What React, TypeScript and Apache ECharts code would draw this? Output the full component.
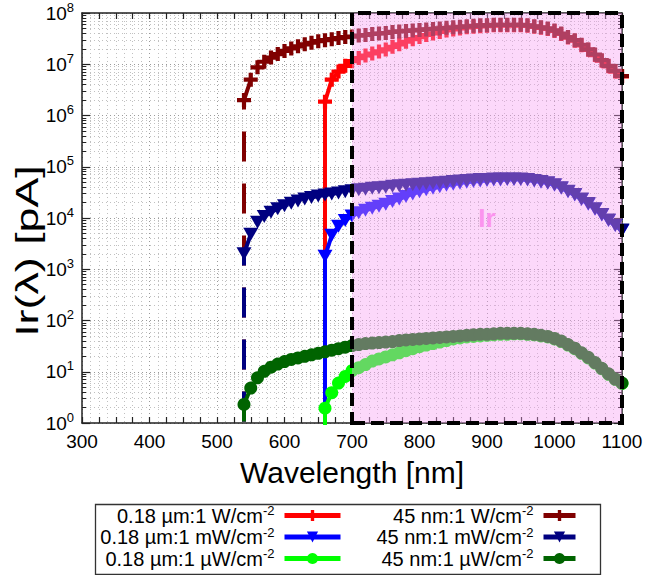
import React, { useEffect, useRef } from "react";
import * as echarts from "echarts";

// Wavelength grids [nm]
const nm45 = [540, 550, 560, 570, 580, 590, 600, 610, 620, 630, 640, 650, 660, 670, 680, 690, 700, 710, 720, 730, 740, 750, 760, 770, 780, 790, 800, 810, 820, 830, 840, 850, 860, 870, 880, 890, 900, 910, 920, 930, 940, 950, 960, 970, 980, 990, 1000, 1010, 1020, 1030, 1040, 1050, 1060, 1070, 1080, 1090, 1100];
const nm018 = [660, 670, 680, 690, 700, 710, 720, 730, 740, 750, 760, 770, 780, 790, 800, 810, 820, 830, 840, 850, 860, 870, 880, 890, 900, 910, 920, 930, 940, 950, 960, 970, 980, 990, 1000, 1010, 1020, 1030, 1040, 1050, 1060, 1070, 1080, 1090, 1100];

// Value at the cut-on wavelength before the response starts (below the axis floor)
const cutOffValue = 0.01;

// Ir(λ) [pA]
const ir018W = [1.86e6, 5.0e6, 7.2e6, 9.3e6, 1.15e7, 1.32e7, 1.48e7, 1.62e7, 1.78e7, 1.95e7, 2.19e7, 2.45e7, 2.75e7, 3.09e7, 3.39e7, 3.72e7, 3.98e7, 4.27e7, 4.57e7, 4.79e7, 5.01e7, 5.25e7, 5.37e7, 5.5e7, 5.62e7, 5.75e7, 5.75e7, 5.75e7, 5.75e7, 5.75e7, 5.62e7, 5.37e7, 5.13e7, 4.9e7, 4.47e7, 3.89e7, 3.31e7, 2.88e7, 2.34e7, 1.91e7, 1.51e7, 1.17e7, 9.1e6, 7.2e6, 5.8e6];
const ir018mW = [1.8e3, 4.6e3, 6.9e3, 8.9e3, 1.1e4, 1.26e4, 1.41e4, 1.55e4, 1.7e4, 1.86e4, 2.09e4, 2.34e4, 2.63e4, 2.95e4, 3.24e4, 3.55e4, 3.8e4, 4.07e4, 4.37e4, 4.57e4, 4.79e4, 5.01e4, 5.13e4, 5.25e4, 5.37e4, 5.5e4, 5.5e4, 5.62e4, 5.62e4, 5.62e4, 5.5e4, 5.25e4, 5.01e4, 4.79e4, 4.37e4, 3.8e4, 3.24e4, 2.82e4, 2.29e4, 1.86e4, 1.48e4, 1.15e4, 8.9e3, 7.1e3, 5.7e3];
const ir018uW = [1.95, 3.9, 6.0, 8.1, 10.5, 12.0, 13.8, 16.2, 17.8, 19.5, 21.4, 23.4, 25.7, 28.2, 30.9, 33.1, 35.5, 38.0, 40.7, 43.7, 45.7, 47.9, 49.0, 50.1, 51.3, 52.5, 53.7, 53.7, 55.0, 55.0, 53.7, 52.5, 50.1, 47.9, 43.7, 38.9, 33.1, 28.2, 22.9, 18.6, 14.8, 11.5, 8.9, 7.1, 5.9];
const ir45W = [2.0e6, 5.0e6, 8.7e6, 1.12e7, 1.35e7, 1.58e7, 1.82e7, 2.04e7, 2.24e7, 2.45e7, 2.63e7, 2.82e7, 2.95e7, 3.09e7, 3.24e7, 3.39e7, 3.47e7, 3.63e7, 3.72e7, 3.89e7, 3.98e7, 4.07e7, 4.27e7, 4.37e7, 4.47e7, 4.57e7, 4.68e7, 4.79e7, 4.9e7, 5.01e7, 5.13e7, 5.25e7, 5.37e7, 5.5e7, 5.62e7, 5.75e7, 5.75e7, 5.89e7, 5.89e7, 5.89e7, 5.89e7, 5.89e7, 5.75e7, 5.5e7, 5.25e7, 5.01e7, 4.57e7, 3.98e7, 3.39e7, 2.95e7, 2.4e7, 1.95e7, 1.55e7, 1.2e7, 9.3e6, 7.4e6, 5.9e6];
const ir45mW = [2.0e3, 4.8e3, 8.3e3, 1.07e4, 1.29e4, 1.51e4, 1.74e4, 1.95e4, 2.14e4, 2.34e4, 2.51e4, 2.69e4, 2.82e4, 2.95e4, 3.09e4, 3.24e4, 3.39e4, 3.55e4, 3.63e4, 3.8e4, 3.89e4, 3.98e4, 4.17e4, 4.27e4, 4.37e4, 4.47e4, 4.57e4, 4.68e4, 4.79e4, 4.9e4, 5.01e4, 5.13e4, 5.25e4, 5.37e4, 5.5e4, 5.62e4, 5.62e4, 5.75e4, 5.75e4, 5.75e4, 5.75e4, 5.75e4, 5.62e4, 5.37e4, 5.13e4, 4.9e4, 4.47e4, 3.89e4, 3.31e4, 2.88e4, 2.34e4, 1.91e4, 1.51e4, 1.17e4, 9.1e3, 7.2e3, 5.8e3];
const ir45uW = [2.3, 4.8, 7.6, 10.2, 12.3, 14.1, 15.8, 17.4, 18.6, 20.0, 21.4, 22.9, 24.5, 26.3, 28.2, 30.2, 32.4, 33.9, 35.5, 36.3, 37.2, 38.0, 38.9, 40.7, 41.7, 42.7, 43.7, 44.7, 45.7, 46.8, 47.9, 49.0, 50.1, 51.3, 52.5, 53.7, 53.7, 55.0, 56.2, 56.2, 56.2, 56.2, 55.0, 53.7, 51.3, 49.0, 44.7, 39.8, 33.9, 28.8, 23.4, 19.1, 15.1, 11.7, 9.1, 7.2, 6.0];

const seriesNames018 = ["0.18 µm:1 W/cm-2", "0.18 µm:1 mW/cm-2", "0.18 µm:1 µW/cm-2"];
const seriesNames45 = ["45 nm:1 W/cm-2", "45 nm:1 mW/cm-2", "45 nm:1 µW/cm-2"];

// Highlighted band [nm]
const bandStart = 700;
const bandEnd = 1100;
const bandLabel = "Ir";

const xMin = 300;
const xMax = 1100;
const yMin = 1;
const yMax = 1e8;

const FONT = "Arial, 'Liberation Sans', sans-serif";
const PLUS = "path://M3.5,0H6.5V3.5H10V6.5H6.5V10H3.5V6.5H0V3.5H3.5Z";
const TRI = "path://M0,0H10L5,9Z";

function toData(xs: number[], ys: number[]) {
  return [[xs[0], cutOffValue], ...xs.map((x, i) => [x, ys[i]])];
}

function mkSeries(name: string, xs: number[], ys: number[], color: string, symbol: string, size: number | number[], dashed: boolean) {
  return {
    name,
    type: "line",
    data: toData(xs, ys),
    symbol,
    symbolSize: size,
    showAllSymbol: true,
    clip: true,
    itemStyle: { color },
    lineStyle: { color, width: 4, type: dashed ? [30, 22] : "solid" },
    emphasis: { disabled: true },
    z: 2,
  };
}

function legendFormatter(name: string) {
  const i = name.lastIndexOf("-2");
  return `{t|${name.slice(0, i)}}{s|-2}`;
}

const legendRich = {
  t: { fontSize: 20, fontFamily: FONT, color: "#000", lineHeight: 22 },
  s: { fontSize: 13, fontFamily: FONT, color: "#000", padding: [0, 5, 10, 0] },
};

export default function App() {
  const ref = useRef<HTMLDivElement>(null);
  useEffect(() => {
    document.body.style.margin = "0";
    const chart = echarts.init(ref.current!, null, { renderer: "svg" });
    const axisLine = { show: true, lineStyle: { color: "#222", width: 1.5 } };
    const gridMajor = { show: true, lineStyle: { color: "#9a9a9a", type: [1, 3], width: 1 } };
    const gridMinor = { show: true, lineStyle: { color: "#c0c0c0", type: [1, 3], width: 1 } };
    const option: any = {
      animation: false,
      backgroundColor: "#fff",
      grid: { left: 82, right: 24, top: 13, bottom: 152, containLabel: false },
      xAxis: [
        {
          type: "value",
          position: "bottom",
          min: xMin,
          max: xMax,
          interval: 100,
          axisLine,
          axisTick: { show: true, inside: true, length: 6, lineStyle: { color: "#222", width: 1.2 } },
          minorTick: { show: true, splitNumber: 4, length: 6, lineStyle: { color: "#222", width: 1.2 } },
          axisLabel: { show: true, fontSize: 19, fontFamily: FONT, color: "#000", margin: 9, formatter: (v: number) => String(v) },
          splitLine: { show: false },
          name: "Wavelength [nm]",
          nameLocation: "middle",
          nameGap: 34,
          nameTextStyle: { fontSize: 30, fontFamily: FONT, color: "#000" },
        },
        {
          type: "value",
          position: "top",
          min: xMin,
          max: xMax,
          interval: 100,
          axisLine,
          axisTick: { show: true, inside: true, length: 6, lineStyle: { color: "#222", width: 1.2 } },
          minorTick: { show: true, splitNumber: 4, length: 6, lineStyle: { color: "#222", width: 1.2 } },
          axisLabel: { show: false },
          splitLine: { show: false },
        },
        {
          type: "value",
          position: "bottom",
          offset: 0,
          min: xMin,
          max: xMax,
          interval: 100,
          axisLine: { show: false },
          axisTick: { show: false },
          axisLabel: { show: false },
          splitLine: gridMajor,
          minorSplitLine: gridMinor,
          minorTick: { show: false, splitNumber: 8 },
        },
      ],
      yAxis: [
        {
          type: "log",
          logBase: 10,
          position: "left",
          min: yMin,
          max: yMax,
          axisLine,
          axisTick: { show: true, inside: true, length: 8, lineStyle: { color: "#222", width: 1.2 } },
          minorTick: { show: true, splitNumber: 9, length: 4, lineStyle: { color: "#222", width: 1 } },
          axisLabel: {
            show: true,
            margin: 8,
            formatter: (v: number) => `{b|10}{s|${Math.round(Math.log10(v))}}`,
            rich: {
              b: { fontSize: 19, fontFamily: FONT, color: "#000" },
              s: { fontSize: 13, fontFamily: FONT, color: "#000", padding: [0, 0, 12, 0] },
            },
          },
          splitLine: gridMajor,
          minorSplitLine: gridMinor,
        },
        {
          type: "log",
          logBase: 10,
          position: "right",
          min: yMin,
          max: yMax,
          axisLine,
          axisTick: { show: true, inside: true, length: 8, lineStyle: { color: "#222", width: 1.2 } },
          minorTick: { show: true, splitNumber: 9, length: 4, lineStyle: { color: "#222", width: 1 } },
          axisLabel: { show: false },
          splitLine: { show: false },
        },
      ],
      legend: [
        {
          data: seriesNames018,
          orient: "vertical",
          align: "right",
          right: 303,
          top: 504,
          padding: 0,
          itemWidth: 56,
          itemHeight: 14,
          itemGap: 0,
          formatter: legendFormatter,
          textStyle: { rich: legendRich },
          lineStyle: { type: "solid", width: 5 },
          selectedMode: false,
        },
        {
          data: seriesNames45,
          orient: "vertical",
          align: "right",
          right: 68,
          top: 504,
          padding: 0,
          itemWidth: 32,
          itemHeight: 14,
          itemGap: 0,
          formatter: legendFormatter,
          textStyle: { rich: legendRich },
          lineStyle: { type: "solid", width: 5 },
          selectedMode: false,
        },
      ],
      graphic: [
        {
          type: "rect",
          left: 93,
          top: 502,
          shape: { width: 505, height: 70 },
          style: { fill: "none", stroke: "#333", lineWidth: 1.3 },
          z: -1,
          silent: true,
        },
        {
          type: "text",
          x: 27,
          y: 251,
          rotation: Math.PI / 2,
          scaleX: 1.4,
          style: {
            text: "Ir(λ) [pA]",
            fontSize: 32,
            fontFamily: FONT,
            fill: "#000",
            align: "center",
            verticalAlign: "middle",
          },
          silent: true,
        },
      ],
      series: [
        mkSeries(seriesNames018[0], nm018, ir018W, "#ff0000", PLUS, 14, false),
        mkSeries(seriesNames018[1], nm018, ir018mW, "#0000ff", TRI, [15, 13], false),
        mkSeries(seriesNames018[2], nm018, ir018uW, "#00ff00", "circle", 13, false),
        mkSeries(seriesNames45[0], nm45, ir45W, "#800000", PLUS, 14, true),
        mkSeries(seriesNames45[1], nm45, ir45mW, "#000080", TRI, [15, 13], true),
        mkSeries(seriesNames45[2], nm45, ir45uW, "#006400", "circle", 13, true),
        {
          name: "band",
          type: "line",
          data: [],
          clip: false,
          z: 10,
          silent: true,
          markArea: {
            z: 10,
            silent: true,
            itemStyle: {
              color: "rgba(248,158,243,0.4)",
              borderColor: "#000",
              borderWidth: 4,
              borderType: [13, 6],
            },
            label: {
              show: true,
              position: "inside",
              color: "#fb94ee",
              fontSize: 26,
              fontWeight: "bold",
              fontFamily: FONT,
            },
            data: [[{ xAxis: bandStart, name: bandLabel }, { xAxis: bandEnd }]],
          },
        },
      ],
    };
    chart.setOption(option);
    return () => chart.dispose();
  }, []);
  return <div ref={ref} style={{ width: 646, height: 575, position: "absolute", left: 0, top: 0 }} />;
}
